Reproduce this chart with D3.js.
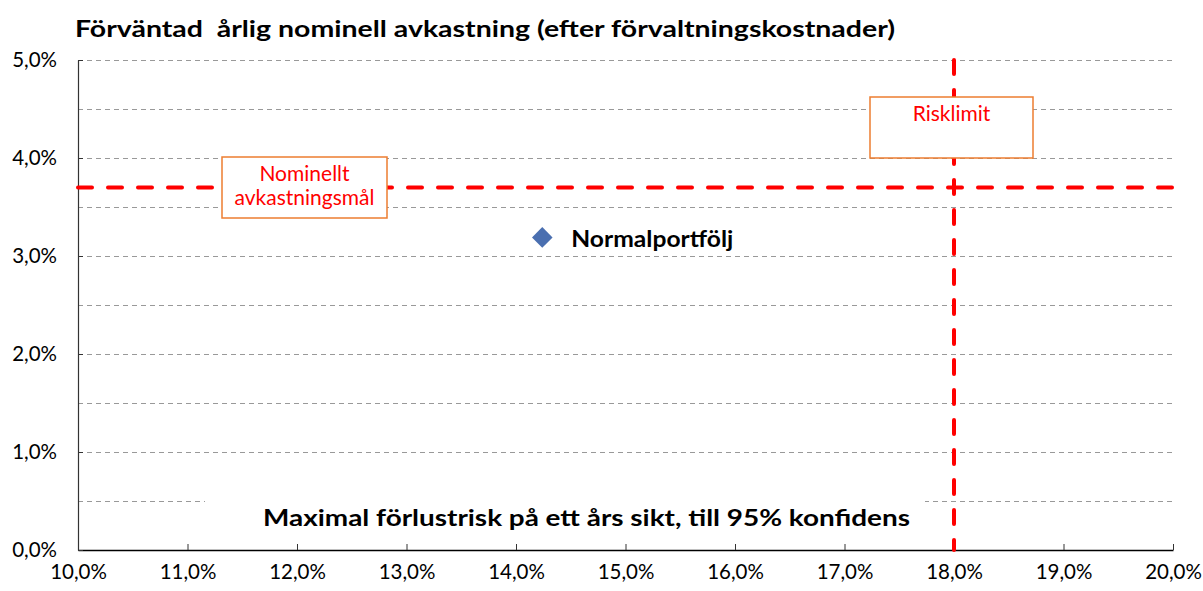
<!doctype html>
<html>
<head>
<meta charset="UTF-8">
<title>Normalportfölj</title>
<script src="https://d3js.org/d3.v7.min.js"></script>
<style>
  body { margin: 0; background: #fff; }
  text { font-family: Lato, "Open Sans", sans-serif; white-space: pre; }
</style>
</head>
<body>
<svg id="chart" width="1203" height="591"></svg>
<script>
var titleText = "Förväntad  årlig nominell avkastning (efter förvaltningskostnader)";
var xLabel = "Maximal förlustrisk på ett års sikt, till 95% konfidens";

var xTicks = [0.10, 0.11, 0.12, 0.13, 0.14, 0.15, 0.16, 0.17, 0.18, 0.19, 0.20];
var yTicks = [0.00, 0.01, 0.02, 0.03, 0.04, 0.05];
var yGrid = [0.005, 0.01, 0.015, 0.02, 0.025, 0.03, 0.035, 0.04, 0.045, 0.05];

var points = [{ name: "Normalportfölj", risk: 0.1424, ret: 0.0319 }];
var returnTarget = { label: ["Nominellt", "avkastningsmål"], value: 0.037 };
var riskLimit = { label: ["Risklimit"], value: 0.18 };

var margin = { left: 78, right: 1173, top: 60, bottom: 550 };

var svg = d3.select("#chart");
var fmt = function (d) { return d3.format(".1f")(d * 100).replace(".", ",") + "%"; };

var x = d3.scaleLinear().domain([0.10, 0.20]).range([margin.left, margin.right]);
var y = d3.scaleLinear().domain([0, 0.05]).range([margin.bottom, margin.top]);

// gridlines
svg.append("g").selectAll("line").data(yGrid).enter().append("line")
  .attr("x1", margin.left).attr("x2", margin.right)
  .attr("y1", function (d) { return y(d) + 0.5; }).attr("y2", function (d) { return y(d) + 0.5; })
  .attr("stroke", "#999").attr("stroke-width", 1).attr("stroke-dasharray", "5,4");

// white backing behind the x label
svg.append("rect").attr("x", 205).attr("y", 492).attr("width", 720).attr("height", 44).attr("fill", "#fff");

// axes
var xAxis = d3.axisBottom(x).tickValues(xTicks).tickSizeInner(-6).tickSizeOuter(0).tickFormat(fmt).tickPadding(14);
var gx = svg.append("g").attr("transform", "translate(0," + margin.bottom + ")").call(xAxis);
gx.selectAll("text").attr("font-size", 20.5).attr("fill", "#000");
gx.select(".domain").attr("stroke", "#000").attr("stroke-width", 1.5);
gx.selectAll(".tick line").attr("stroke", "#333");

var yAxis = d3.axisLeft(y).tickValues(yTicks).tickSizeInner(-5).tickSizeOuter(0).tickFormat(fmt).tickPadding(21);
var gy = svg.append("g").attr("transform", "translate(" + margin.left + ",0)").call(yAxis);
gy.selectAll("text").attr("font-size", 20.5).attr("fill", "#000");
gy.select(".domain").attr("stroke", "#333").attr("stroke-width", 1.2);
gy.selectAll(".tick line").attr("stroke", "#333");

// reference lines
svg.append("line")
  .attr("x1", margin.left).attr("x2", margin.right)
  .attr("y1", y(returnTarget.value)).attr("y2", y(returnTarget.value))
  .attr("stroke", "#ff0000").attr("stroke-width", 4).attr("stroke-dasharray", "14,16")
  .attr("stroke-linecap", "round");
svg.append("line")
  .attr("x1", x(riskLimit.value)).attr("x2", x(riskLimit.value))
  .attr("y1", margin.top).attr("y2", margin.bottom)
  .attr("stroke", "#ff0000").attr("stroke-width", 4).attr("stroke-dasharray", "14,16")
  .attr("stroke-linecap", "round");

// annotation boxes
function box(bx, by, bw, bh, lines) {
  svg.append("rect").attr("x", bx).attr("y", by).attr("width", bw).attr("height", bh)
    .attr("fill", "#fff").attr("stroke", "#ed7d31").attr("stroke-width", 1.5);
  svg.append("g").selectAll("text").data(lines).enter().append("text")
    .attr("x", bx + bw / 2).attr("y", function (d, i) { return by + 24 + i * 24; })
    .attr("text-anchor", "middle").attr("font-size", 21).attr("fill", "#ff0000")
    .text(function (d) { return d; });
}
box(222, 157, 165, 61, returnTarget.label);
box(870, 97, 163, 61, riskLimit.label);

// point
svg.append("g").selectAll("path").data(points).enter().append("path")
  .attr("d", d3.symbol().type(d3.symbolDiamond2).size(270))
  .attr("transform", function (d) { return "translate(" + x(d.risk) + "," + y(d.ret) + ")"; })
  .attr("fill", "#4a6fb0");
svg.append("g").selectAll("text").data(points).enter().append("text")
  .attr("x", function (d) { return x(d.risk) + 29; })
  .attr("y", function (d) { return y(d.ret) + 10; })
  .attr("font-size", 22).attr("font-weight", "bold").attr("fill", "#000")
  .attr("textLength", 162).attr("lengthAdjust", "spacingAndGlyphs")
  .text(function (d) { return d.name; });

// titles
svg.append("text").attr("x", 75).attr("y", 37).attr("font-size", 23).attr("font-weight", "bold")
  .attr("textLength", 820).attr("lengthAdjust", "spacingAndGlyphs").text(titleText);
svg.append("text").attr("x", 263).attr("y", 526).attr("font-size", 23).attr("font-weight", "bold")
  .attr("textLength", 647).attr("lengthAdjust", "spacingAndGlyphs").text(xLabel);
</script>
</body>
</html>
